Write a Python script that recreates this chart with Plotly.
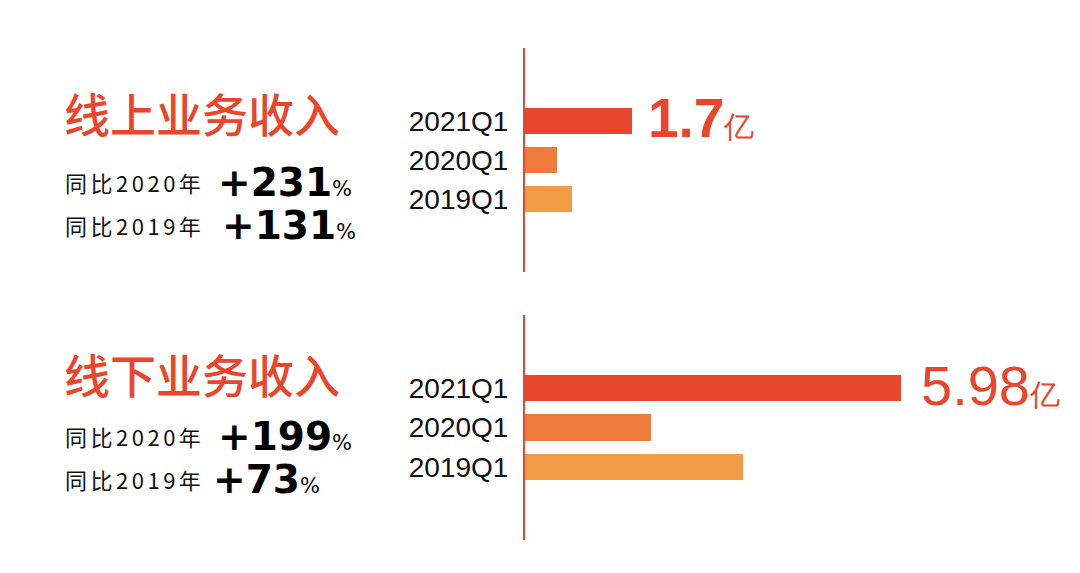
import plotly.graph_objects as go
from plotly.subplots import make_subplots

# quarters, bottom to top
quarters = ["2019Q1", "2020Q1", "2021Q1"]
online_rev = [0.74, 0.51, 1.70]    # 亿
offline_rev = [3.46, 2.00, 5.98]   # 亿
bar_colors = ["#F29B45", "#EE7A3B", "#E8472E"]

online_title = "线上业务收入"
offline_title = "线下业务收入"
online_yoy = ["+231", "+131"]
offline_yoy = ["+199", "+73"]
yoy_labels = ["同比2020年", "同比2019年"]

RED = "#E8472E"
W, H = 1080, 573

fig = make_subplots(rows=2, cols=1)

for row, vals in [(1, online_rev), (2, offline_rev)]:
    fig.add_trace(go.Bar(x=vals, y=quarters, orientation="h",
                         marker=dict(color=bar_colors, line=dict(width=0)),
                         width=0.67, showlegend=False), row=row, col=1)

def px_y(py):
    return 1 - py / H

ax_common = dict(range=[0, 8.5], domain=[525 / W, 1060 / W], visible=False)
fig.update_layout(xaxis=ax_common, xaxis2=ax_common)

y_common = dict(type="category", categoryorder="array", categoryarray=quarters,
                range=[-1.87, 3.87], showline=True, linecolor=RED, linewidth=2,
                showgrid=False, zeroline=False, ticks="", ticklabelstandoff=9,
                tickfont=dict(family="Arial, Liberation Sans", size=28, color="#111111"))
fig.update_layout(
    yaxis=dict(y_common, domain=[px_y(272), px_y(48)]),
    yaxis2=dict(y_common, domain=[px_y(540), px_y(315)]),
)

anns = []
# value labels for the latest quarter (online one is bold, offline regular)
for xref, yref, vals, bold, size, xs in [("x", "y", online_rev, True, 55, 14),
                                         ("x2", "y2", offline_rev, False, 56, 18)]:
    v = vals[-1]
    num = f"<b>{v:g}</b>" if bold else f"{v:g}"
    anns.append(dict(x=v, y=quarters[-1], xref=xref, yref=yref,
                     xanchor="left", yanchor="middle", xshift=xs, yshift=3,
                     text=num + "<span style='font-size:30px'>亿</span>",
                     showarrow=False,
                     font=dict(family="Arial, Liberation Sans", size=size, color=RED)))

# left-hand text blocks
blocks = [(online_title, 112, online_yoy, [182, 225], [216, 220]),
          (offline_title, 373, offline_yoy, [436, 479], [216, 211])]
for title, ty, yoys, rows_y, num_x in blocks:
    anns.append(dict(x=62 / W, y=px_y(ty), xref="paper", yref="paper",
                     xanchor="left", yanchor="middle", showarrow=False, text=title,
                     font=dict(family="Noto Sans CJK SC", size=46, color=RED, weight=500)))
    for lab, val, ry, nx in zip(yoy_labels, yoys, rows_y, num_x):
        anns.append(dict(x=63 / W, y=px_y(ry), xref="paper", yref="paper",
                         xanchor="left", yanchor="middle", showarrow=False,
                         text=f"<span style='letter-spacing:3.5px'>{lab}</span>",
                         font=dict(family="Noto Sans CJK SC", size=22, color="#111111")))
        anns.append(dict(x=nx / W, y=px_y(ry), xref="paper", yref="paper",
                         xanchor="left", yanchor="middle", showarrow=False,
                         text=f"<b>{val}</b><span style='font-size:21px'>%</span>",
                         font=dict(family="DejaVu Sans", size=39, color="#000000")))

fig.update_layout(
    width=W, height=H,
    margin=dict(l=0, r=0, t=0, b=0),
    paper_bgcolor="white", plot_bgcolor="white",
    bargap=0, annotations=anns,
)

fig.write_html("out.html", config={"displayModeBar": False},
               post_script="document.body.style.margin='0';")
